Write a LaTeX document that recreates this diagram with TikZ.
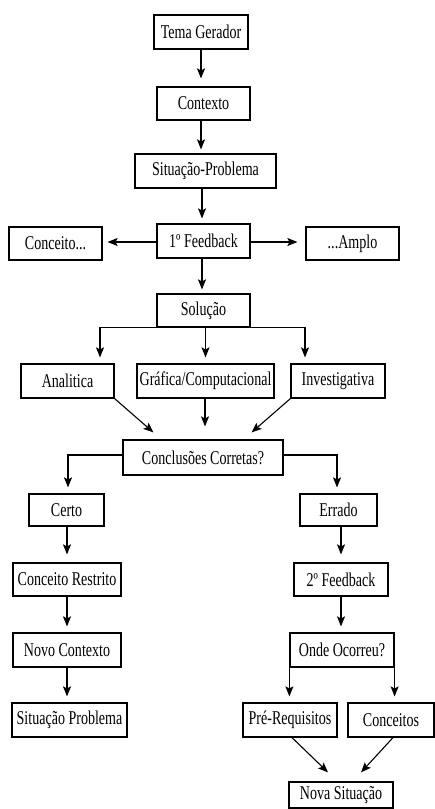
\documentclass[tikz,border=0pt]{standalone}
\usepackage{fontspec}
\setmainfont{Liberation Serif}
\usepackage{graphicx}
\usepackage{tikz}
\usetikzlibrary{arrows.meta}

% texto estreito, como no original
\newcommand{\rotulo}[1]{\scalebox{0.72}[1]{#1}}

\begin{document}
\begin{tikzpicture}[
    x=1pt, y=-1pt,
    caixa/.style={draw, line width=1.2pt, minimum width=#1, minimum height=34, inner sep=0pt, font=\fontsize{19.5}{21}\selectfont},
    seta/.style={-{Stealth[length=10pt,width=8pt,inset=2pt]}, line width=1.1pt, shorten >=6pt}
]
\useasboundingbox (0,0) rectangle (435,809);

% Coluna central
\node[caixa=94] (tema) at (201, 32) {\rotulo{Tema Gerador}};
\node[caixa=93, minimum height=33] (contexto) at (203.5, 103.5) {\rotulo{Contexto}};
\node[caixa=141] (sitprob) at (205.5, 171) {\rotulo{Situação-Problema}};
\node[caixa=93] (feed1) at (203.5, 241) {\rotulo{1º Feedback}};
\node[caixa=93, minimum height=33] (conceito) at (55.5, 243.5) {\rotulo{Conceito...}};
\node[caixa=93, minimum height=33] (amplo) at (352.5, 243.5) {\rotulo{...Amplo}};
\node[caixa=93, minimum height=33] (solucao) at (203.5, 310.5) {\rotulo{Solução}};

\draw[seta, shorten >=8pt] (tema.south -| 201,0) -- (tema.south |- contexto.north);
\draw[seta, shorten >=4pt] (contexto.south -| 201,0) -- (contexto.north |- sitprob.north -| 201,0);
\draw[seta, shorten >=5pt] (sitprob.south -| 202,0) -- (feed1.north -| 202,0);
\draw[seta, shorten >=4pt] (feed1.south -| 202,0) -- (solucao.north -| 202,0);

% 1o Feedback para os lados
\draw[seta, shorten >=5pt] (feed1.west |- 0,242) -- (conceito.east |- 0,242);
\draw[seta, shorten >=8pt] (feed1.east |- 0,242) -- (amplo.west |- 0,242);

% Tipos de solucao
\node[caixa=93] (analitica) at (67.5, 381) {\rotulo{Analitica}};
\node[caixa=137] (grafica) at (205.5, 381) {\rotulo{Gráfica/Computacional}};
\node[caixa=94] (invest) at (338, 381) {\rotulo{Investigativa}};

\draw[seta] (solucao.south) -| ([xshift=32.5pt]analitica.north);
\draw[seta] (solucao.south -| grafica.north) -- (grafica.north);
\draw[seta] (solucao.south) -| ([xshift=-33pt]invest.north);

% Conclusoes
\node[caixa=160, minimum height=35] (conclusoes) at (203, 457.5) {\rotulo{Conclusões Corretas?}};

\draw[seta, shorten >=0pt] (analitica.south east) -- ([xshift=31pt,yshift=7pt]conclusoes.north west);
\draw[seta, shorten >=13pt] (grafica.south -| 205,0) -- (conclusoes.north -| 205,0);
\draw[seta, shorten >=0pt] (invest.south west) -- ([xshift=-32pt,yshift=7pt]conclusoes.north east);

% Ramo certo
\node[caixa=75, minimum height=32] (certo) at (66.5, 510) {\rotulo{Certo}};
\node[caixa=108, minimum height=33] (restrito) at (67, 579.5) {\rotulo{Conceito Restrito}};
\node[caixa=108] (novo) at (67, 650) {\rotulo{Novo Contexto}};
\node[caixa=115] (sitprob2) at (69.5, 720) {\rotulo{Situação Problema}};

\draw[seta] (conclusoes.west |- 0,455) -| (certo.north -| 68,0);
\draw[seta, shorten >=8pt] (certo.south -| 67,0) -- (restrito.north -| 67,0);
\draw[seta] (restrito.south) -- (novo.north);
\draw[seta] (novo.south -| 67,0) -- (sitprob2.north -| 67,0);

% Ramo errado
\node[caixa=77, minimum height=32] (errado) at (338.5, 510) {\rotulo{Errado}};
\node[caixa=94, minimum height=33] (feed2) at (341, 579.5) {\rotulo{2º Feedback}};
\node[caixa=104] (onde) at (342, 650) {\rotulo{Onde Ocorreu?}};
\node[caixa=94] (prereq) at (290, 720) {\rotulo{Pré-Requisitos}};
\node[caixa=86] (conceitos) at (391, 720) {\rotulo{Conceitos}};
\node[caixa=104, minimum height=26] (nova) at (341, 795) {\rotulo{Nova Situação}};

\draw[seta] (conclusoes.east |- 0,455) -| (errado.north -| 337,0);
\draw[seta, shorten >=8pt] (errado.south -| 341,0) -- (feed2.north -| 341,0);
\draw[seta] (feed2.south -| 341,0) -- (onde.north -| 341,0);
\draw[seta] (onde.south west) -- (onde.south west |- prereq.north);
\draw[seta] (onde.south east) -- (onde.south east |- conceitos.north);
\draw[seta, shorten >=0pt] ([xshift=2pt]prereq.south) -- ([xshift=-13pt,yshift=9pt]nova.north);
\draw[seta, shorten >=0pt] ([xshift=2pt]conceitos.south) -- ([xshift=20pt,yshift=9pt]nova.north);
\end{tikzpicture}
\end{document}
